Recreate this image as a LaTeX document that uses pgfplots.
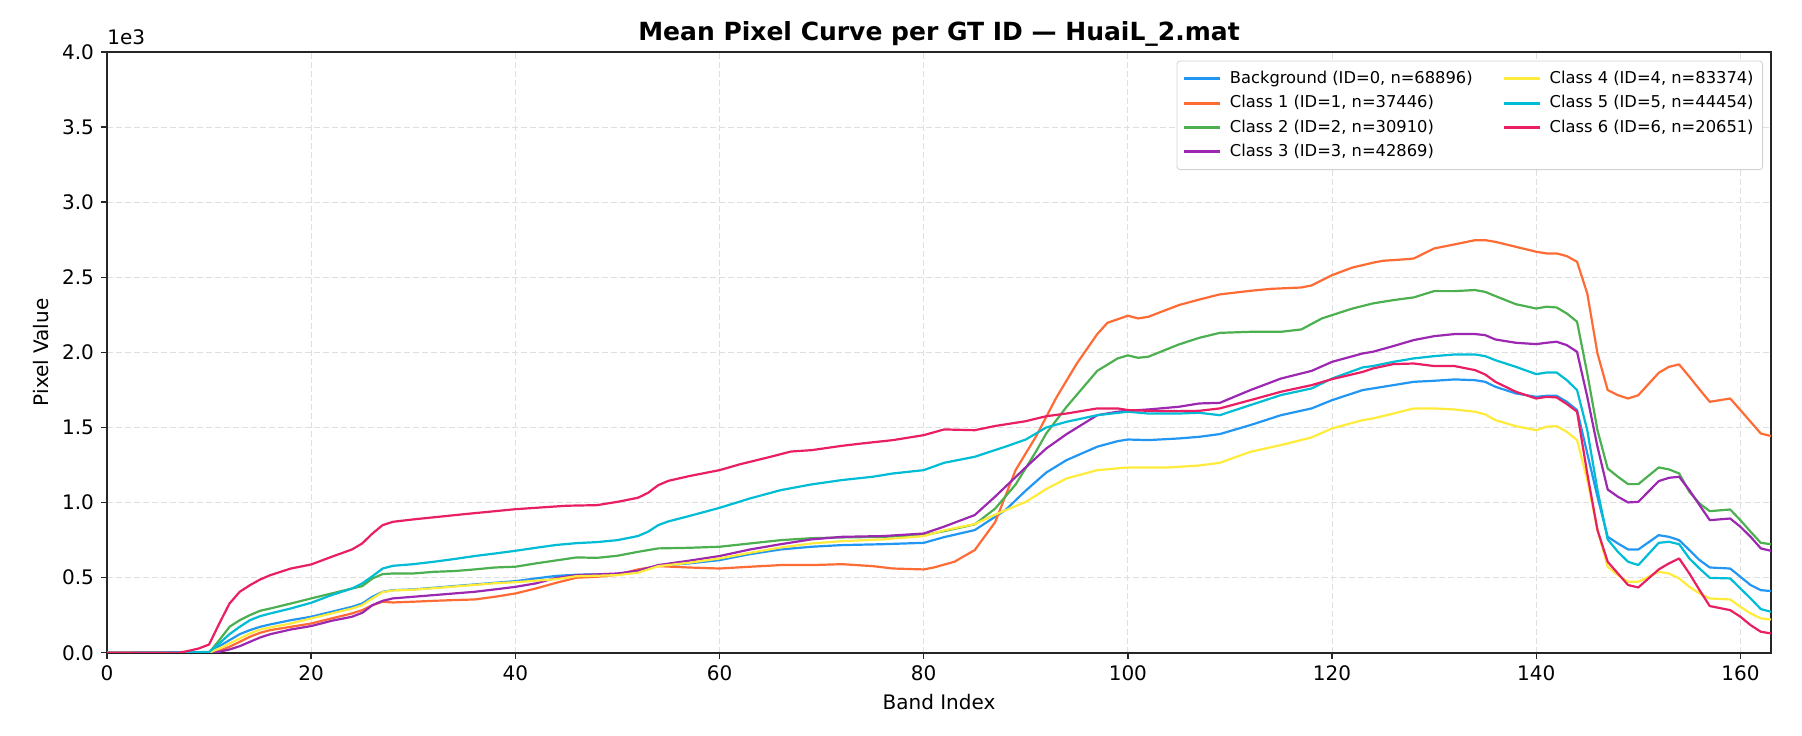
\documentclass[border=0pt]{standalone}
\usepackage{pgfplots}
\pgfplotsset{compat=1.18}
\usepackage{fontspec}
\setmainfont{DejaVu Sans}
\definecolor{cBg}{HTML}{2196F3}
\definecolor{cC1}{HTML}{FF6B35}
\definecolor{cC2}{HTML}{4CAF50}
\definecolor{cC3}{HTML}{9C27B0}
\definecolor{cC4}{HTML}{FFEB3B}
\definecolor{cC5}{HTML}{00BCD4}
\definecolor{cC6}{HTML}{E91E63}
\begin{document}
\begin{tikzpicture}
\begin{axis}[
  scale only axis, width=832pt, height=300.4pt,
  xmin=0, xmax=163, ymin=0, ymax=4000,
  xtick={0,20,...,160},
  ytick={0,500,...,4000},
  yticklabels={0.0,0.5,1.0,1.5,2.0,2.5,3.0,3.5,4.0},
  /pgf/number format/assume math mode=true,
  tick label style={font=\fontsize{10}{12}\selectfont},
  label style={font=\fontsize{10}{12}\selectfont},
  xlabel={Band Index}, ylabel={Pixel Value},
  title={\textbf{Mean Pixel Curve per GT ID — HuaiL\_2.mat}},
  title style={font=\fontsize{12.5}{14}\selectfont, yshift=-6.5pt},
  tick align=outside, major tick length=3pt,
  xtick pos=bottom, ytick pos=left,
  axis line style={line width=0.8pt, black!85},
  every tick/.style={line width=0.7pt, black!85},
  grid=major,
  major grid style={gray!25, dash pattern=on 3pt off 1.5pt, line width=0.4pt},
  legend columns=2,
  legend cell align=left,
  legend style={at={(axis description cs:0.9952,0.9855)}, anchor=north east,
    font=\fontsize{8.15}{9.5}\selectfont, draw=gray!35, rounded corners=1.5pt,
    inner xsep=3pt, inner ysep=3.5pt, row sep=1.5pt,
    nodes={inner sep=1.5pt},
    /tikz/every odd column/.append style={column sep=2.5pt},
    /tikz/every even column/.append style={column sep=13.5pt}},
  legend image code/.code={\draw[#1, line width=1.5pt] (0pt,0pt) -- (18pt,0pt);},
  every axis plot/.append style={line width=1.1pt, line join=round},
]
% Background (ID=0)
\addplot[cBg, forget plot] table[row sep=\\] {
x y\\ 0 0\\ 10 0\\ 11 44\\ 12 84\\ 13 124\\ 14 151\\ 15 173\\ 16 189\\ 18 217\\ 20 240\\ 22 273\\ 24 306\\ 25 328\\ 26 373\\ 27 406\\ 28 417\\ 30 422\\ 32 433\\ 34 444\\ 36 455\\ 38 466\\ 40 477\\ 42 495\\ 44 512\\ 46 520\\ 48 522\\ 50 524\\ 52 539\\ 54 579\\ 57 595\\ 60 617\\ 63 657\\ 66 688\\ 69 706\\ 72 717\\ 76 723\\ 80 732\\ 82 770\\ 85 817\\ 88 950\\ 90 1080\\ 92 1200\\ 94 1283\\ 97 1372\\ 99 1409\\ 100 1420\\ 102 1416\\ 105 1427\\ 107 1438\\ 109 1456\\ 112 1516\\ 115 1582\\ 118 1627\\ 120 1682\\ 123 1749\\ 126 1782\\ 128 1804\\ 130 1811\\ 132 1820\\ 134 1815\\ 135 1804\\ 136 1771\\ 138 1727\\ 140 1704\\ 141 1711\\ 142 1711\\ 143 1671\\ 144 1616\\ 145 1327\\ 146 1039\\ 147 772\\ 148 728\\ 149 688\\ 150 688\\ 152 783\\ 153 772\\ 154 750\\ 155 684\\ 156 617\\ 157 568\\ 159 561\\ 160 506\\ 161 451\\ 162 417\\ 163 411\\
};
% Class 1
\addplot[cC1, forget plot] table[row sep=\\] {
x y\\ 0 0\\ 10 0\\ 11 13\\ 12 40\\ 13 73\\ 14 107\\ 15 133\\ 16 151\\ 18 173\\ 20 195\\ 22 229\\ 24 262\\ 25 284\\ 26 317\\ 27 340\\ 28 335\\ 30 340\\ 32 346\\ 34 351\\ 36 355\\ 38 373\\ 40 395\\ 42 428\\ 44 466\\ 46 500\\ 48 506\\ 50 520\\ 52 555\\ 54 577\\ 57 568\\ 60 561\\ 63 573\\ 66 584\\ 69 584\\ 72 590\\ 75 577\\ 77 561\\ 80 555\\ 81 568\\ 83 606\\ 85 684\\ 87 870\\ 89 1216\\ 91 1440\\ 93 1700\\ 95 1926\\ 97 2122\\ 98 2197\\ 100 2244\\ 101 2226\\ 102 2237\\ 105 2315\\ 107 2352\\ 109 2386\\ 112 2410\\ 114 2423\\ 117 2432\\ 118 2446\\ 120 2514\\ 122 2565\\ 124 2597\\ 125 2610\\ 127 2619\\ 128 2625\\ 130 2692\\ 132 2719\\ 134 2747\\ 135 2747\\ 136 2736\\ 138 2703\\ 140 2670\\ 141 2659\\ 142 2659\\ 143 2641\\ 144 2603\\ 145 2392\\ 146 1993\\ 147 1749\\ 148 1715\\ 149 1693\\ 150 1715\\ 152 1864\\ 153 1904\\ 154 1920\\ 155 1838\\ 156 1753\\ 157 1671\\ 159 1693\\ 160 1616\\ 161 1538\\ 162 1460\\ 163 1443\\
};
% Class 2
\addplot[cC2, forget plot] table[row sep=\\] {
x y\\ 0 0\\ 10 0\\ 11 84\\ 12 173\\ 13 217\\ 14 251\\ 15 280\\ 16 295\\ 18 328\\ 20 362\\ 22 395\\ 24 428\\ 25 444\\ 26 495\\ 27 524\\ 28 528\\ 30 528\\ 32 539\\ 34 544\\ 36 555\\ 38 568\\ 40 573\\ 42 595\\ 44 615\\ 46 635\\ 48 632\\ 50 646\\ 52 672\\ 54 695\\ 57 699\\ 60 706\\ 63 728\\ 66 750\\ 69 763\\ 72 768\\ 76 772\\ 80 783\\ 82 810\\ 85 855\\ 87 960\\ 89 1120\\ 91 1340\\ 92 1460\\ 94 1638\\ 97 1877\\ 99 1960\\ 100 1980\\ 101 1964\\ 102 1971\\ 105 2053\\ 107 2097\\ 109 2130\\ 112 2137\\ 115 2137\\ 117 2153\\ 119 2226\\ 122 2292\\ 124 2326\\ 126 2348\\ 128 2366\\ 130 2408\\ 132 2408\\ 134 2415\\ 135 2403\\ 136 2375\\ 138 2321\\ 140 2292\\ 141 2304\\ 142 2299\\ 143 2259\\ 144 2204\\ 145 1860\\ 146 1482\\ 147 1227\\ 148 1172\\ 149 1123\\ 150 1123\\ 152 1234\\ 153 1221\\ 154 1194\\ 155 1072\\ 156 994\\ 157 943\\ 159 954\\ 160 883\\ 161 806\\ 162 732\\ 163 723\\
};
% Class 3
\addplot[cC3, forget plot] table[row sep=\\] {
x y\\ 0 0\\ 10 0\\ 11 7\\ 12 22\\ 13 44\\ 14 73\\ 15 102\\ 16 124\\ 18 155\\ 20 178\\ 22 213\\ 24 240\\ 25 266\\ 26 317\\ 27 346\\ 28 362\\ 30 373\\ 32 384\\ 34 395\\ 36 406\\ 38 422\\ 40 439\\ 42 462\\ 44 498\\ 46 517\\ 48 522\\ 50 528\\ 52 546\\ 54 584\\ 57 613\\ 60 644\\ 63 688\\ 66 723\\ 69 755\\ 72 772\\ 76 777\\ 80 794\\ 82 840\\ 85 917\\ 87 1040\\ 90 1235\\ 92 1360\\ 94 1456\\ 97 1582\\ 99 1605\\ 100 1611\\ 102 1620\\ 105 1638\\ 107 1660\\ 109 1664\\ 112 1749\\ 115 1826\\ 118 1877\\ 120 1937\\ 123 1993\\ 124 2004\\ 126 2042\\ 128 2082\\ 130 2108\\ 132 2122\\ 134 2122\\ 135 2115\\ 136 2086\\ 138 2064\\ 140 2055\\ 141 2064\\ 142 2071\\ 143 2048\\ 144 2004\\ 145 1704\\ 146 1372\\ 147 1087\\ 148 1039\\ 149 1001\\ 150 1005\\ 152 1143\\ 153 1165\\ 154 1172\\ 155 1083\\ 156 983\\ 157 883\\ 159 894\\ 160 839\\ 161 772\\ 162 695\\ 163 679\\
};
% Class 4
\addplot[cC4, forget plot] table[row sep=\\] {
x y\\ 0 0\\ 10 0\\ 11 29\\ 12 62\\ 13 95\\ 14 129\\ 15 155\\ 16 169\\ 18 195\\ 20 229\\ 22 262\\ 24 295\\ 25 317\\ 26 362\\ 27 404\\ 28 415\\ 30 420\\ 32 430\\ 34 441\\ 36 452\\ 38 463\\ 40 470\\ 42 480\\ 44 490\\ 46 510\\ 48 513\\ 50 517\\ 52 533\\ 54 577\\ 57 599\\ 60 628\\ 63 666\\ 66 701\\ 69 728\\ 72 743\\ 76 755\\ 80 777\\ 82 815\\ 85 857\\ 87 920\\ 90 1005\\ 92 1090\\ 94 1161\\ 97 1216\\ 100 1234\\ 104 1234\\ 107 1247\\ 109 1265\\ 112 1338\\ 115 1383\\ 118 1434\\ 120 1494\\ 123 1549\\ 124 1560\\ 126 1593\\ 128 1627\\ 130 1627\\ 132 1620\\ 134 1605\\ 135 1587\\ 136 1549\\ 138 1509\\ 140 1482\\ 141 1505\\ 142 1509\\ 143 1471\\ 144 1416\\ 145 1149\\ 146 817\\ 147 573\\ 148 517\\ 149 473\\ 150 473\\ 152 539\\ 153 528\\ 154 495\\ 155 439\\ 156 395\\ 157 362\\ 159 355\\ 160 306\\ 161 262\\ 162 229\\ 163 222\\
};
% Class 5
\addplot[cC5, forget plot] table[row sep=\\] {
x y\\ 0 0\\ 10 5\\ 11 62\\ 12 124\\ 13 173\\ 14 217\\ 15 244\\ 16 262\\ 18 295\\ 20 333\\ 22 384\\ 24 428\\ 25 462\\ 26 510\\ 27 561\\ 28 579\\ 30 590\\ 32 606\\ 34 624\\ 36 644\\ 38 661\\ 40 679\\ 42 699\\ 44 718\\ 46 730\\ 48 737\\ 50 750\\ 52 777\\ 53 806\\ 54 850\\ 55 875\\ 57 910\\ 60 965\\ 63 1028\\ 66 1083\\ 69 1121\\ 72 1150\\ 75 1172\\ 77 1194\\ 80 1216\\ 82 1265\\ 85 1305\\ 87 1350\\ 88 1372\\ 90 1420\\ 91 1460\\ 92 1500\\ 94 1538\\ 97 1582\\ 100 1605\\ 102 1593\\ 105 1593\\ 107 1598\\ 109 1582\\ 112 1649\\ 115 1716\\ 118 1760\\ 120 1826\\ 123 1900\\ 124 1909\\ 126 1937\\ 128 1960\\ 130 1975\\ 132 1986\\ 134 1986\\ 135 1975\\ 136 1948\\ 138 1904\\ 140 1855\\ 141 1866\\ 142 1866\\ 143 1815\\ 144 1749\\ 145 1482\\ 146 1083\\ 147 755\\ 148 672\\ 149 606\\ 150 584\\ 152 732\\ 153 739\\ 154 723\\ 155 628\\ 156 561\\ 157 499\\ 159 495\\ 160 428\\ 161 362\\ 162 291\\ 163 273\\
};
% Class 6
\addplot[cC6, forget plot] table[row sep=\\] {
x y\\ 0 0\\ 7 0\\ 8 13\\ 9 29\\ 10 55\\ 11 195\\ 12 328\\ 13 406\\ 14 450\\ 15 488\\ 16 517\\ 18 561\\ 20 588\\ 22 639\\ 24 688\\ 25 728\\ 26 794\\ 27 850\\ 28 872\\ 30 888\\ 35 923\\ 40 956\\ 45 979\\ 48 983\\ 49 994\\ 50 1005\\ 52 1032\\ 53 1065\\ 54 1116\\ 55 1145\\ 57 1176\\ 60 1216\\ 62 1255\\ 65 1305\\ 67 1340\\ 69 1349\\ 72 1378\\ 74 1394\\ 77 1416\\ 80 1449\\ 82 1487\\ 85 1482\\ 87 1510\\ 90 1542\\ 92 1575\\ 94 1593\\ 97 1627\\ 99 1627\\ 100 1616\\ 102 1611\\ 105 1609\\ 107 1611\\ 109 1627\\ 112 1682\\ 115 1738\\ 118 1782\\ 120 1822\\ 123 1870\\ 124 1893\\ 126 1922\\ 128 1926\\ 130 1909\\ 132 1909\\ 134 1882\\ 135 1853\\ 136 1804\\ 138 1738\\ 140 1693\\ 141 1704\\ 142 1700\\ 143 1656\\ 144 1605\\ 145 1194\\ 146 817\\ 147 606\\ 148 528\\ 149 451\\ 150 435\\ 152 555\\ 153 595\\ 154 628\\ 155 528\\ 156 417\\ 157 311\\ 159 284\\ 160 240\\ 161 184\\ 162 140\\ 163 129\\
};
\addlegendimage{cBg}\addlegendentry{Background (ID=0, n=68896)}
\addlegendimage{cC4}\addlegendentry{Class 4 (ID=4, n=83374)}
\addlegendimage{cC1}\addlegendentry{Class 1 (ID=1, n=37446)}
\addlegendimage{cC5}\addlegendentry{Class 5 (ID=5, n=44454)}
\addlegendimage{cC2}\addlegendentry{Class 2 (ID=2, n=30910)}
\addlegendimage{cC6}\addlegendentry{Class 6 (ID=6, n=20651)}
\addlegendimage{cC3}\addlegendentry{Class 3 (ID=3, n=42869)}
\end{axis}
\node[anchor=base west, inner sep=0pt, font=\fontsize{10}{12}\selectfont] at ([yshift=3.5pt]current axis.north west) {1e3};
\pgfresetboundingbox
\path ([shift={(-53.5pt,-41.6pt)}]current axis.south west) rectangle ([shift={(15.5pt,26pt)}]current axis.north east);
\end{tikzpicture}
\end{document}
